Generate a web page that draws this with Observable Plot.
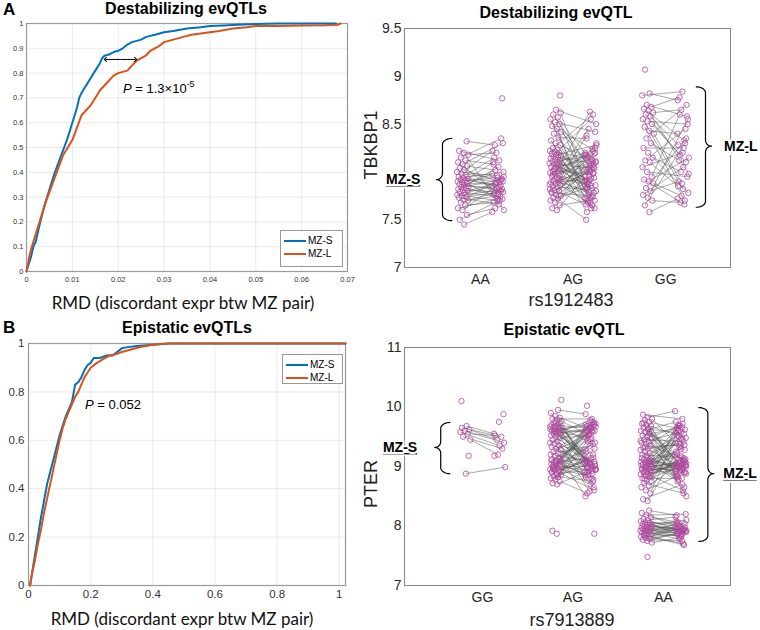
<!DOCTYPE html>
<html>
<head>
<meta charset="utf-8">
<script src="https://cdn.jsdelivr.net/npm/d3@7"></script>
<script src="https://cdn.jsdelivr.net/npm/@observablehq/plot@0.6"></script>
<style>
html,body{margin:0;padding:0;background:#fff;}
#root{position:relative;width:760px;height:630px;overflow:hidden;font-family:"Liberation Sans",Arial,sans-serif;color:#000;}
#root svg{position:absolute;overflow:visible;background:transparent;}
.t{position:absolute;white-space:nowrap;line-height:1;}
.title{font-weight:bold;font-size:16px;transform:translate(-50%,-50%);}
.panel{font-weight:bold;font-size:17px;transform:translate(0,-50%);}
.xl{font-family:Lato,"Open Sans",sans-serif;font-size:17px;transform:translate(-50%,-50%);color:#111;}
.sx{font-size:18px;transform:translate(-50%,-50%);color:#222;}
.yl{font-size:18px;transform:translate(-50%,-50%) rotate(-90deg);color:#222;}
.pv{font-size:13px;}
.pv sup{font-size:9px;vertical-align:6px;line-height:0;}
.leg{position:absolute;background:#fff;border:1px solid #999;font-size:10px;box-sizing:border-box;}
.leg div{position:relative;height:13px;line-height:13px;padding-left:27px;}
.leg span{position:absolute;left:3px;top:6px;width:22px;height:2px;}
</style>
</head>
<body>
<div id="root"></div>
<script>
// ---------- Panel A: empirical CDF of RMD (destabilizing evQTLs) ----------
const rmdA_S = [0,0.0005,0.001,0.0015,0.002,0.003,0.004,0.005,0.006,0.007,0.008,0.009,0.010,0.011,0.0115,0.012,0.013,0.014,0.015,0.016,0.0165,0.017,0.018,0.019,0.020,0.021,0.022,0.023,0.024,0.025,0.026,0.027,0.028,0.030,0.032,0.035,0.038,0.040,0.043,0.046,0.050,0.055,0.060,0.067,0.0675];
const cdfA_S = [0,0.03,0.06,0.1,0.12,0.2,0.27,0.33,0.39,0.44,0.49,0.54,0.60,0.66,0.70,0.72,0.75,0.78,0.81,0.84,0.86,0.87,0.875,0.885,0.89,0.90,0.915,0.925,0.93,0.935,0.945,0.95,0.955,0.965,0.97,0.98,0.985,0.99,0.992,0.995,0.998,1,1,1,1];
const rmdA_L = [0,0.0005,0.001,0.002,0.003,0.004,0.005,0.006,0.007,0.008,0.009,0.010,0.011,0.012,0.013,0.014,0.015,0.016,0.017,0.018,0.019,0.020,0.021,0.022,0.023,0.024,0.025,0.026,0.027,0.028,0.029,0.030,0.032,0.034,0.036,0.038,0.040,0.042,0.045,0.048,0.050,0.055,0.060,0.065,0.068,0.0685];
const cdfA_L = [0,0.05,0.09,0.15,0.21,0.27,0.32,0.37,0.42,0.47,0.5,0.53,0.58,0.63,0.65,0.67,0.7,0.73,0.75,0.77,0.79,0.80,0.805,0.81,0.83,0.85,0.86,0.87,0.89,0.9,0.91,0.925,0.935,0.945,0.955,0.96,0.965,0.97,0.98,0.985,0.99,0.99,0.992,0.993,0.995,1.0];
const ticksA_x = [0,0.01,0.02,0.03,0.04,0.05,0.06,0.07];
const ticksA_y = [0,0.1,0.2,0.3,0.4,0.5,0.6,0.7,0.8,0.9,1];
const arrowA = [0.0172, 0.0238, 0.855]; // x-start, x-end, y of the double arrow

// ---------- Panel B: empirical CDF of RMD (epistatic evQTLs) ----------
const rmdB_S = [0.005,0.01,0.02,0.03,0.04,0.05,0.06,0.07,0.08,0.09,0.10,0.11,0.12,0.13,0.14,0.15,0.16,0.17,0.18,0.19,0.20,0.21,0.23,0.25,0.27,0.28,0.30,0.32,0.35,0.40,0.45,0.6,0.73,1.02];
const cdfB_S = [0,0.04,0.12,0.2,0.28,0.35,0.42,0.47,0.52,0.57,0.62,0.66,0.70,0.73,0.76,0.83,0.84,0.86,0.89,0.91,0.92,0.94,0.94,0.95,0.95,0.96,0.98,0.985,0.99,0.995,1,1,1,1];
const rmdB_L = [0.005,0.01,0.02,0.03,0.04,0.05,0.06,0.07,0.08,0.09,0.10,0.11,0.12,0.13,0.14,0.15,0.16,0.17,0.18,0.19,0.20,0.22,0.24,0.26,0.28,0.30,0.33,0.36,0.40,0.45,0.6,1.02];
const cdfB_L = [0,0.04,0.1,0.17,0.23,0.3,0.36,0.42,0.48,0.54,0.6,0.65,0.69,0.72,0.75,0.78,0.8,0.83,0.86,0.88,0.9,0.92,0.935,0.95,0.955,0.965,0.975,0.985,0.995,1,1,1];
const ticksB_x = [0,0.2,0.4,0.6,0.8,1];
const ticksB_y = [0,0.2,0.4,0.6,0.8,1];

// ---------- Destabilizing evQTL: TBKBP1 by rs1912483 (twin 1 / twin 2 of each pair) ----------
const catsTop = ["AA","AG","GG"];
const topAA_t1 = [7.45,7.5,7.55,7.6,7.62,7.65,7.68,7.7,7.71,7.73,7.74,7.75,7.76,7.78,7.79,7.8,7.81,7.82,7.83,7.84,7.85,7.86,7.87,7.88,7.89,7.9,7.91,7.92,7.93,7.94,7.95,7.97,7.98,8.0,8.02,8.04,8.06,8.08,8.1,8.12,8.15,8.18,8.2,8.22,8.32,null];
const topAA_t2 = [7.58,7.7,7.62,7.9,7.72,7.68,7.8,7.75,7.95,7.66,7.78,7.82,7.7,7.85,7.74,7.88,7.79,8.05,7.76,7.92,7.83,7.98,7.81,7.87,7.72,7.94,8.1,7.86,7.9,8.0,7.84,8.15,7.93,7.96,8.22,7.89,8.02,8.3,7.77,8.08,8.35,8.2,7.6,8.12,8.28,8.77];
const topAG_t1 = [7.6,7.62,7.65,7.68,7.7,7.72,7.73,7.75,7.76,7.78,7.8,7.81,7.82,7.84,7.85,7.86,7.88,7.89,7.9,7.91,7.92,7.94,7.95,7.96,7.98,7.99,8.0,8.01,8.02,8.04,8.05,8.06,8.08,8.09,8.1,8.11,8.12,8.13,8.14,8.15,8.16,8.17,8.18,8.19,8.2,8.21,8.22,8.23,8.25,8.28,8.3,8.33,8.36,8.4,8.42,8.45,8.48,8.5,8.52,8.55,8.57,8.6,8.62,8.65,7.79,7.93,8.03,7.87,8.07,7.97,8.8];
const topAG_t2 = [7.95,8.12,7.7,8.2,7.85,7.5,8.05,7.9,8.3,7.75,8.15,7.62,8.0,7.82,8.22,7.68,8.1,7.93,8.38,7.78,8.02,8.18,7.65,7.88,8.25,7.72,8.08,7.98,8.45,7.8,8.13,7.58,8.04,7.92,8.2,7.74,8.16,7.86,8.55,7.66,8.09,7.96,8.28,7.83,8.0,7.7,8.14,7.9,8.6,7.76,8.11,7.62,8.35,7.94,8.06,7.72,8.24,7.84,8.42,7.68,8.18,7.99,7.79,8.5,8.03,7.87,8.19,8.63,7.91,8.07,null];
const topGG_t1 = [7.58,7.65,7.7,7.73,7.76,7.8,7.83,7.88,7.9,7.92,7.95,8.0,8.05,8.1,8.12,8.15,8.2,8.25,8.3,8.35,8.4,8.43,8.47,8.5,8.53,8.55,8.58,8.6,8.62,8.64,8.66,8.68,8.7,8.8,8.82,9.07];
const topGG_t2 = [7.72,8.3,7.68,8.55,8.05,7.9,8.35,7.75,8.15,7.66,8.6,7.95,8.2,7.85,8.45,8.0,7.78,8.25,8.12,8.7,7.88,8.4,7.7,8.18,8.5,7.82,8.28,8.1,8.65,7.98,8.33,8.78,8.58,8.84,8.75,null];
const ticksTop_y = [7,7.5,8,8.5,9,9.5];
const ticksTop_lab = ["7","7.5","","8.5","9","9.5"];
// bracket annotations: label, spine x, low, high, tip y, label x
const brTop_label = ["MZ-S","MZ-L"];
const brTop_x = [0.59, 3.43];
const brTop_lo = [7.49, 7.63];
const brTop_hi = [8.35, 8.89];
const brTop_tip = [7.92, 8.27];
const brTop_tx = [0.35, 3.63];

// ---------- Epistatic evQTL: PTER by rs7913889 ----------
const catsBot = ["GG","AG","AA"];
const botGG_t1 = [9.68,9.65,9.62,9.6,9.58,9.55,9.5,9.45,8.88,10.1,9.18,null,null,null];
const botGG_t2 = [9.55,9.5,9.45,9.4,9.35,9.52,9.3,9.2,8.99,null,null,9.88,9.75,9.18];
const botAG_t1 = [8.7,8.72,8.75,8.78,8.8,8.82,8.84,8.86,8.88,8.9,8.92,8.94,8.95,8.97,8.99,9.0,9.02,9.04,9.05,9.07,9.09,9.1,9.12,9.15,9.18,9.2,9.22,9.25,9.28,9.3,9.33,9.35,9.38,9.4,9.42,9.45,9.48,9.5,9.52,9.54,9.55,9.57,9.58,9.6,9.61,9.62,9.63,9.64,9.65,9.66,9.68,9.7,9.72,9.74,9.76,9.78,9.8,9.82,9.85,9.9,9.95,8.96,9.03,9.08,8.91,9.13,9.6,9.67,8.87,9.01,9.56,9.73,9.11,8.93,9.0,10.12,7.87,7.92,null,null];
const botAG_t2 = [8.9,9.6,8.55,9.3,9.05,9.7,8.75,9.45,8.95,9.65,9.1,8.6,9.55,8.85,9.75,9.0,9.4,8.7,9.62,9.15,8.92,9.5,8.8,9.68,9.08,9.35,8.5,9.58,8.98,9.72,9.02,9.25,8.65,9.66,9.12,8.88,9.52,9.04,9.78,8.82,9.2,9.63,8.96,9.48,9.06,9.7,8.58,9.57,9.0,9.42,8.94,9.64,9.1,8.78,9.53,9.18,9.8,8.9,9.6,9.03,9.88,9.38,8.86,9.67,9.14,8.99,9.74,9.07,9.28,8.93,9.61,9.01,9.46,9.09,9.69,null,null,null,10.02,7.87];
const botAA_t1 = [8.42,8.45,8.55,8.6,8.65,8.68,8.72,8.75,8.78,8.8,8.82,8.85,8.87,8.88,8.9,8.92,8.93,8.95,8.96,8.98,9.0,9.01,9.03,9.05,9.07,9.08,9.1,9.12,9.15,9.18,9.2,9.22,9.25,9.28,9.3,9.32,9.35,9.38,9.4,9.42,9.45,9.48,9.5,9.52,9.55,9.58,9.6,9.62,9.65,9.68,9.7,9.72,9.75,9.78,9.8,9.83,9.87,8.94,8.99,9.02,9.06,8.91,9.04,9.11,8.97,9.09,9.33,9.43,9.63,9.73,8.86,9.0,9.14,9.57,8.79,
  7.72,7.75,7.77,7.78,7.8,7.82,7.83,7.85,7.86,7.88,7.89,7.9,7.91,7.92,7.93,7.94,7.95,7.96,7.97,7.98,8.0,8.01,8.02,8.03,8.05,8.06,8.08,8.1,8.12,8.15,8.18,8.22,8.26,7.84,7.99,7.48];
const botAA_t2 = [9.2,8.7,9.6,8.9,9.35,9.0,8.55,9.5,9.05,8.8,9.65,9.1,8.95,9.4,8.6,9.7,9.02,9.3,8.85,9.55,9.08,8.92,9.45,8.75,9.62,9.0,9.25,8.98,9.68,8.88,9.15,9.52,8.65,9.38,9.04,9.72,8.82,9.12,9.58,8.96,9.42,9.06,8.5,9.66,9.01,9.28,8.93,9.75,9.1,8.78,9.48,9.03,9.64,8.9,9.33,9.93,9.8,8.99,9.07,9.18,8.87,9.05,9.6,9.0,8.94,9.22,9.36,9.69,9.57,8.97,9.11,9.02,9.47,8.84,9.14,
  7.8,7.92,7.75,7.88,7.98,7.85,7.95,7.7,8.0,7.9,7.83,8.05,7.94,7.78,7.97,7.87,8.02,7.92,7.82,8.08,7.96,7.89,8.1,7.93,7.86,8.04,7.99,8.15,7.91,8.06,8.2,7.97,8.18,7.68,7.95,null];
const ticksBot_y = [7,8,9,10,11];
const brBot_label = ["MZ-S","MZ-L"];
const brBot_x = [0.54, 3.49];
const brBot_lo = [8.88, 7.74];
const brBot_hi = [9.74, 9.99];
const brBot_tip = [9.32, 8.88];
const brBot_tx = [0.28, 3.66];

// ---------- colours ----------
const BLUE = "#0072BD", ORANGE = "#D95319", PURPLE = "#B0479F";

const root = document.getElementById("root");
const fmt = d => String(+d.toFixed(3));

function place(el, left, top) { el.style.left = left + "px"; el.style.top = top + "px"; root.appendChild(el); return el; }
function txt(cls, html, left, top) { const d = document.createElement("div"); d.className = "t " + cls; d.innerHTML = html; return place(d, left, top); }

function zipXY(xs, ys, s) { return xs.map((x, i) => ({x, y: ys[i], s})); }

function cdfPlot(o) {
  const data = zipXY(o.xS, o.yS, "MZ-S").concat(zipXY(o.xL, o.yL, "MZ-L"));
  return Plot.plot({
    width: o.width, height: o.height,
    marginLeft: o.ml, marginRight: o.mr, marginTop: o.mt, marginBottom: o.mb,
    style: {fontSize: o.fs + "px", fontFamily: "Liberation Sans, Arial, sans-serif", color: "#333", background: "transparent", overflow: "visible"},
    x: {domain: o.xdom, ticks: o.xt, tickFormat: fmt, grid: true, label: null, tickSize: 0, tickPadding: o.tpx},
    y: {domain: [0, 1], ticks: o.yt, tickFormat: fmt, grid: true, label: null, tickSize: 0, tickPadding: o.tpy},
    marks: [
      Plot.frame({stroke: "#9a9a9a", strokeWidth: 1.2}),
      Plot.line(data, {x: "x", y: "y", z: "s", stroke: d => d.s === "MZ-S" ? BLUE : ORANGE, strokeWidth: 2}),
      ...(o.extra || [])
    ]
  });
}

// ---- Panel A ----
const arrowMid = (arrowA[0] + arrowA[1]) / 2;
const svgA = cdfPlot({xS: rmdA_S, yS: cdfA_S, xL: rmdA_L, yL: cdfA_L, xdom: [0, 0.07], xt: ticksA_x, yt: ticksA_y,
  width: 350, height: 290, ml: 26, mr: 3, mt: 23, mb: 19, fs: 7.5, tpx: 5, tpy: 3,
  extra: [
    Plot.link([{x1: arrowMid, x2: arrowA[0]}, {x1: arrowMid, x2: arrowA[1]}], {x1: "x1", x2: "x2", y1: arrowA[2], y2: arrowA[2], stroke: "black", strokeWidth: 1, markerEnd: "arrow"})
  ]});
place(svgA, 0, 0);

// ---- Panel B ----
const svgB = cdfPlot({xS: rmdB_S, yS: cdfB_S, xL: rmdB_L, yL: cdfB_L, xdom: [0, 1.02], xt: ticksB_x, yt: ticksB_y,
  width: 350, height: 295, ml: 28, mr: 5, mt: 33, mb: 20, fs: 11.5, tpx: 4, tpy: 4});
place(svgB, 0, 310);

// ---- scatter panels ----
const jit = (i, s) => ((((i + 1) * 0.6180339887 + s * 0.41) % 1) - 0.5) * 0.13;

function bracePts(x0, y0, y1, ym, s, wh, wt, ry, k) {
  const out = [], N = 10, H = Math.PI / 2;
  for (let j = 0; j <= N; j++) { const t = j / N * H; out.push({x: x0 + s * wh - s * wh * Math.sin(t), y: y1 - ry + ry * Math.cos(t), k}); }
  for (let j = 0; j <= N; j++) { const t = j / N * H; out.push({x: x0 - s * wt + s * wt * Math.cos(t), y: ym + ry - ry * Math.sin(t), k}); }
  for (let j = 0; j <= N; j++) { const t = j / N * H; out.push({x: x0 - s * wt + s * wt * Math.sin(t), y: ym - ry + ry * Math.cos(t), k}); }
  for (let j = 0; j <= N; j++) { const t = j / N * H; out.push({x: x0 + s * wh - s * wh * Math.cos(t), y: y0 + ry - ry * Math.sin(t), k}); }
  return out;
}

function scatterPlot(o) {
  const pts = [], links = [];
  o.groups.forEach((g, k) => {
    const c = k + 1;
    const n = Math.max(g[0].length, g[1].length);
    for (let i = 0; i < n; i++) {
      const a = g[0][i], b = g[1][i];
      const xa = c - 0.19 + jit(i, 0), xb = c + 0.19 + jit(i, 1);
      if (a != null) pts.push({x: xa, y: a});
      if (b != null) pts.push({x: xb, y: b});
      if (a != null && b != null) links.push({x1: xa, y1: a, x2: xb, y2: b});
    }
  });
  const braces = [];
  o.br.label.forEach((l, k) => braces.push(...bracePts(o.br.x[k], o.br.lo[k], o.br.hi[k], o.br.tip[k], k === 0 ? 1 : -1, 0.1, 0.065, o.ry, k)));
  const labs = o.br.label.map((l, k) => ({l, x: o.br.tx[k], y: o.br.tip[k]}));
  const svg = Plot.plot({
    width: 400, height: o.height,
    marginLeft: 44, marginRight: 30, marginTop: o.mt, marginBottom: o.mb,
    style: {fontSize: "14px", fontFamily: "Liberation Sans, Arial, sans-serif", color: "#262626", background: "transparent", overflow: "visible"},
    x: {domain: o.xdom, ticks: [1, 2, 3], tickFormat: i => o.cats[i - 1], label: null, tickSize: 0, tickPadding: 7},
    y: {domain: o.ydom, ticks: o.yt, tickFormat: o.ytf, label: null, tickSize: 0, tickPadding: 3},
    marks: [
      Plot.frame({stroke: "#8a8a8a", strokeWidth: 1.1}),
      Plot.link(links, {x1: "x1", y1: "y1", x2: "x2", y2: "y2", stroke: "#555", strokeWidth: 0.6, strokeOpacity: 0.85}),
      Plot.dot(pts, {x: "x", y: "y", r: 2.7, stroke: PURPLE, strokeWidth: 0.8, fill: "none"}),
      Plot.line(braces, {x: "x", y: "y", z: "k", stroke: "black", strokeWidth: 1.2}),
      Plot.text(labs.slice(0, 1), {x: "x", y: "y", text: "l", textAnchor: "end", fontWeight: "bold", fontSize: 14, fill: "black", stroke: "white", strokeWidth: 4, paintOrder: "stroke"}),
      Plot.text(labs.slice(1), {x: "x", y: "y", text: "l", textAnchor: "start", fontWeight: "bold", fontSize: 14, fill: "black", stroke: "white", strokeWidth: 4, paintOrder: "stroke"})
    ]
  });
  svg.querySelectorAll("text").forEach(t => { if (t.textContent === "MZ-S" || t.textContent === "MZ-L") { t.setAttribute("text-decoration", "underline"); t.setAttribute("paint-order", "stroke"); } });
  return svg;
}

const svgC = scatterPlot({
  cats: catsTop, groups: [[topAA_t1, topAA_t2], [topAG_t1, topAG_t2], [topGG_t1, topGG_t2]],
  xdom: [0.18, 3.70], ydom: [7, 9.5], yt: ticksTop_y, ytf: (d, i) => ticksTop_lab[ticksTop_y.indexOf(d)],
  height: 310, mt: 28, mb: 43, ry: 0.063,
  br: {label: brTop_label, x: brTop_x, lo: brTop_lo, hi: brTop_hi, tip: brTop_tip, tx: brTop_tx}
});
place(svgC, 360, 0);

const svgD = scatterPlot({
  cats: catsBot, groups: [[botGG_t1, botGG_t2], [botAG_t1, botAG_t2], [botAA_t1, botAA_t2]],
  xdom: [0.14, 3.74], ydom: [7, 11], yt: ticksBot_y, ytf: d => String(d),
  height: 320, mt: 37, mb: 45, ry: 0.1,
  br: {label: brBot_label, x: brBot_x, lo: brBot_lo, hi: brBot_hi, tip: brBot_tip, tx: brBot_tx}
});
place(svgD, 360, 310);

// ---- text ----
txt("panel", "A", 3, 9);
txt("title", "Destabilizing evQTLs", 186, 9);
txt("xl", "RMD (discordant expr btw MZ pair)", 183, 302);
txt("pv", "<i>P</i> = 1.3×10<sup>-5</sup>", 123, 82);
txt("panel", "B", 3, 327);
txt("title", "Epistatic evQTLs", 187, 328);
txt("xl", "RMD (discordant expr btw MZ pair)", 182, 618);
txt("pv", "<i>P</i> = 0.052", 85, 398);

txt("title", "Destabilizing evQTL", 556, 13);
txt("sx", "rs1912483", 571, 300);
txt("yl", "TBKBP1", 371, 145);
txt("title", "Epistatic evQTL", 564, 330);
txt("sx", "rs7913889", 572, 620);
txt("yl", "PTER", 371, 484);

function legend(left, top, w, h) {
  const d = document.createElement("div");
  d.className = "leg";
  d.style.width = w + "px"; d.style.height = h + "px"; d.style.paddingTop = "3px";
  d.innerHTML = `<div><span style="background:${BLUE}"></span>MZ-S</div><div><span style="background:${ORANGE}"></span>MZ-L</div>`;
  return place(d, left, top);
}
legend(280, 230, 63, 37);
legend(282, 354, 61, 30);
</script>
</body>
</html>
